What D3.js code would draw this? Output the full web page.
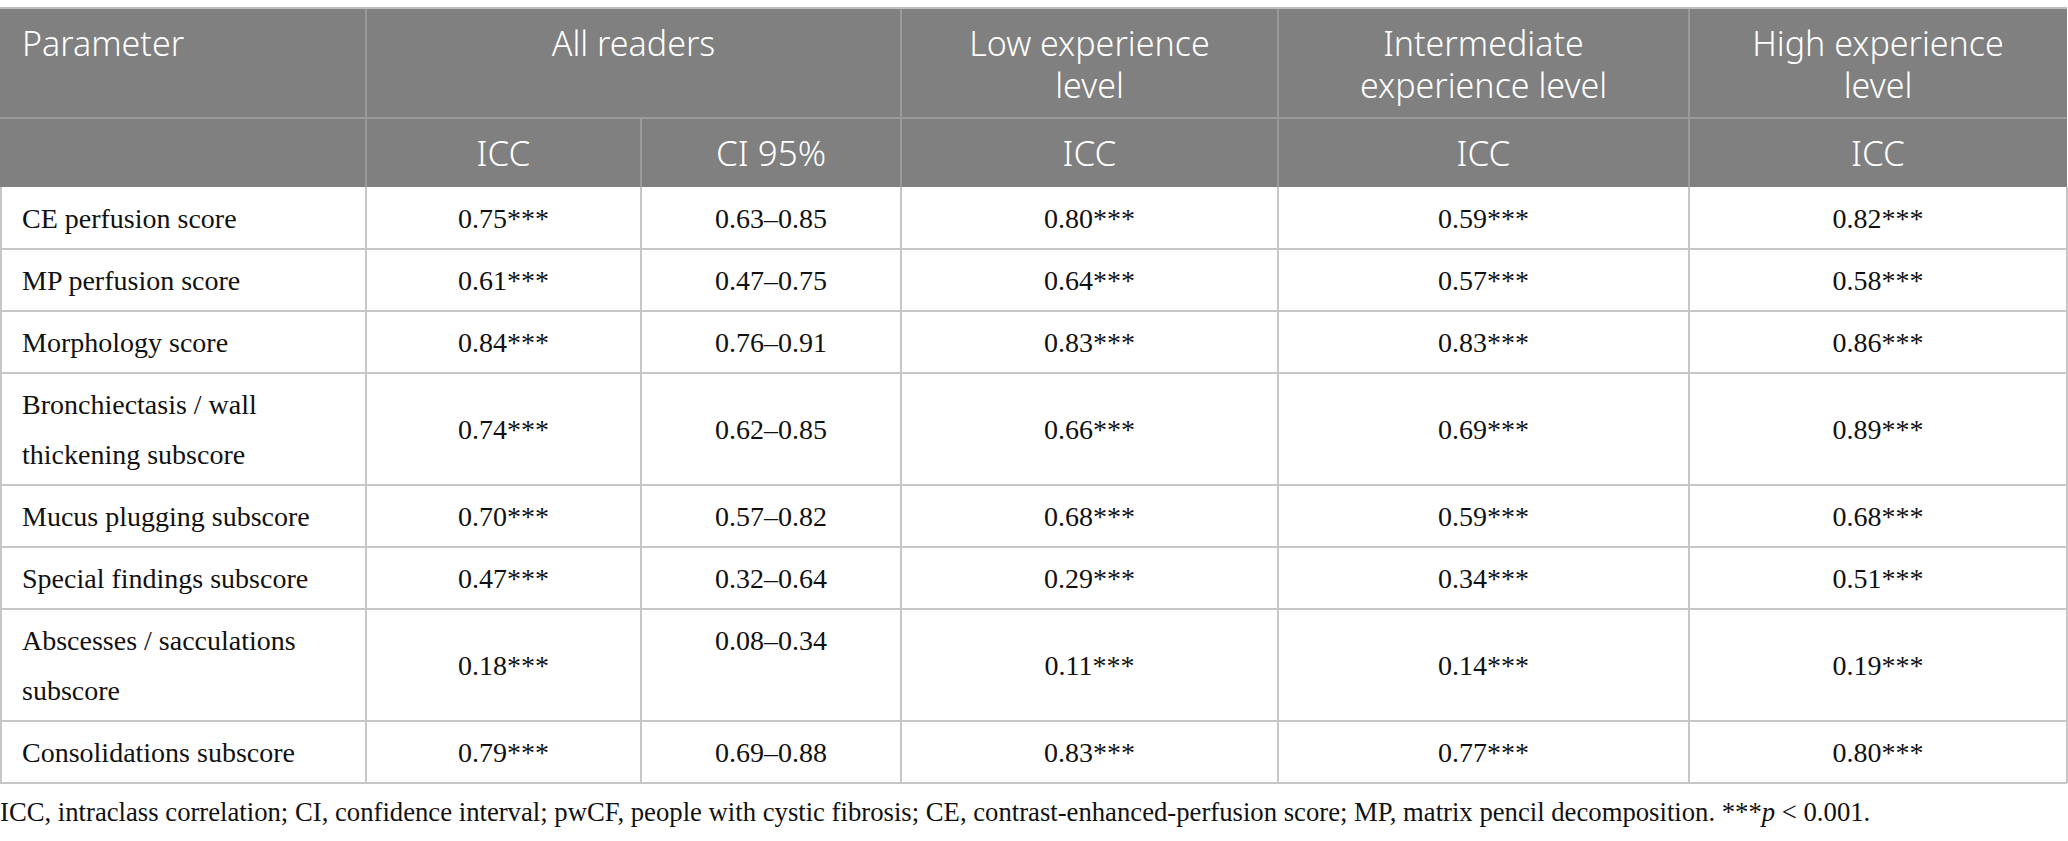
<!DOCTYPE html>
<html>
<head>
<meta charset="utf-8">
<script src="https://cdn.jsdelivr.net/npm/d3@7"></script>
<style>
  body { margin: 0; background: #fff; }
  svg { display: block; }
</style>
</head>
<body>
<svg></svg>
<script>
// table content
var parameters = [
    ["CE perfusion score"],
    ["MP perfusion score"],
    ["Morphology score"],
    ["Bronchiectasis / wall", "thickening subscore"],
    ["Mucus plugging subscore"],
    ["Special findings subscore"],
    ["Abscesses / sacculations", "subscore"],
    ["Consolidations subscore"]
]
var iccAll = ["0.75***", "0.61***", "0.84***", "0.74***", "0.70***", "0.47***", "0.18***", "0.79***"]
var ci95 = ["0.63–0.85", "0.47–0.75", "0.76–0.91", "0.62–0.85", "0.57–0.82", "0.32–0.64", "0.08–0.34", "0.69–0.88"]
var iccLow = ["0.80***", "0.64***", "0.83***", "0.66***", "0.68***", "0.29***", "0.11***", "0.83***"]
var iccInter = ["0.59***", "0.57***", "0.83***", "0.69***", "0.59***", "0.34***", "0.14***", "0.77***"]
var iccHigh = ["0.82***", "0.58***", "0.86***", "0.89***", "0.68***", "0.51***", "0.19***", "0.80***"]

var groupHeaders = [
    {label: ["Parameter"], from: 0, to: 1, align: "left"},
    {label: ["All readers"], from: 1, to: 3},
    {label: ["Low experience", "level"], from: 3, to: 4},
    {label: ["Intermediate", "experience level"], from: 4, to: 5},
    {label: ["High experience", "level"], from: 5, to: 6}
]
var subHeaders = ["", "ICC", "CI 95%", "ICC", "ICC", "ICC"]
var footnote = "ICC, intraclass correlation; CI, confidence interval; pwCF, people with cystic fibrosis; CE, contrast-enhanced-perfusion score; MP, matrix pencil decomposition. ***"

var dimensions = {
    width: 2068,
    height: 841,
    top: 8,
    head1: 110,
    head2: 69,
    singleRow: 62,
    doubleRow: 112
}

// column edges
var colEdges = [0, 366, 641, 901, 1278, 1689, 2067]
var headBg = "#7f807f"
var gridColor = "#c6c6c6"

var svg = d3.select("svg")
            .attr("width", dimensions.width)
            .attr("height", dimensions.height)

// row positions
var rowTops = []
var y = dimensions.top + dimensions.head1 + dimensions.head2
parameters.forEach(function(p){
    var h = p.length > 1 ? dimensions.doubleRow : dimensions.singleRow
    rowTops.push({y: y, h: h})
    y += h
})
var tableBottom = y

// header background
svg.append("rect")
   .attr("x", colEdges[0])
   .attr("y", dimensions.top)
   .attr("width", colEdges[6] - colEdges[0])
   .attr("height", dimensions.head1 + dimensions.head2)
   .attr("fill", headBg)

// header lines
var h1Bottom = dimensions.top + dimensions.head1
var h2Bottom = h1Bottom + dimensions.head2
svg.append("line")
   .attr("x1", 0).attr("x2", colEdges[6])
   .attr("y1", h1Bottom).attr("y2", h1Bottom)
   .attr("stroke", "#999a99").attr("stroke-width", 2)

groupHeaders.forEach(function(g){
    if (g.from > 0) {
        svg.append("line")
           .attr("x1", colEdges[g.from]).attr("x2", colEdges[g.from])
           .attr("y1", dimensions.top).attr("y2", h2Bottom)
           .attr("stroke", "#999a99").attr("stroke-width", 2)
    }
    var cx = g.align === "left" ? colEdges[g.from] + 22 : (colEdges[g.from] + colEdges[g.to]) / 2
    g.label.forEach(function(t, i){
        svg.append("text")
           .attr("x", cx)
           .attr("y", dimensions.top + 36 + i * 42)
           .attr("dy", "0.35em")
           .attr("text-anchor", g.align === "left" ? "start" : "middle")
           .attr("font-family", "'Noto Sans', sans-serif")
           .attr("font-weight", 300)
           .attr("font-size", 34)
           .attr("fill", "#fff")
           .text(t)
    })
})
// sub header divider inside "All readers"
svg.append("line")
   .attr("x1", colEdges[2]).attr("x2", colEdges[2])
   .attr("y1", h1Bottom).attr("y2", h2Bottom)
   .attr("stroke", "#999a99").attr("stroke-width", 2)

subHeaders.forEach(function(t, i){
    svg.append("text")
       .attr("x", (colEdges[i] + colEdges[i + 1]) / 2)
       .attr("y", h1Bottom + dimensions.head2 / 2 + 1)
       .attr("dy", "0.35em")
       .attr("text-anchor", "middle")
       .attr("font-family", "'Noto Sans', sans-serif")
       .attr("font-weight", 300)
       .attr("font-size", 35)
       .attr("fill", "#fff")
       .text(t)
})

// body grid
var grid = svg.append("g")
              .attr("stroke", gridColor)
              .attr("stroke-width", 2)
rowTops.forEach(function(r){
    grid.append("line")
        .attr("x1", 0).attr("x2", colEdges[6])
        .attr("y1", r.y + r.h).attr("y2", r.y + r.h)
})
colEdges.forEach(function(x, i){
    grid.append("line")
        .attr("x1", i === 0 ? 1 : x).attr("x2", i === 0 ? 1 : x)
        .attr("y1", h2Bottom).attr("y2", tableBottom)
})
svg.append("line")
   .attr("x1", 0).attr("x2", colEdges[6])
   .attr("y1", dimensions.top).attr("y2", dimensions.top)
   .attr("stroke", "#bdbdbd").attr("stroke-width", 2)

// body text
var columns = [iccAll, ci95, iccLow, iccInter, iccHigh]
var lineGap = 50
function bodyText(x, yy, t, anchor){
    svg.append("text")
       .attr("x", x)
       .attr("y", yy)
       .attr("dy", "0.35em")
       .attr("text-anchor", anchor)
       .attr("font-family", "'Liberation Serif', serif")
       .attr("font-size", 28)
       .attr("fill", "#111")
       .text(t)
}
parameters.forEach(function(p, r){
    var row = rowTops[r]
    var mid = row.y + row.h / 2
    var firstLine = mid - (p.length - 1) * lineGap / 2
    p.forEach(function(t, k){
        bodyText(22, firstLine + k * lineGap, t, "start")
    })
    columns.forEach(function(col, c){
        var cx = (colEdges[c + 1] + colEdges[c + 2]) / 2
        // CI of the two-line abscess row sits on the first line
        var yy = (c === 1 && r === 6) ? firstLine : mid
        bodyText(cx, yy, col[r], "middle")
    })
})

// footnote
var fn = svg.append("text")
            .attr("x", 0)
            .attr("y", tableBottom + 29)
            .attr("dy", "0.35em")
            .attr("font-family", "'Liberation Serif', serif")
            .attr("font-size", 26.7)
            .attr("fill", "#111")
fn.append("tspan").text(footnote)
fn.append("tspan").attr("font-style", "italic").text("p")
fn.append("tspan").text(" < 0.001.")
</script>
</body>
</html>
